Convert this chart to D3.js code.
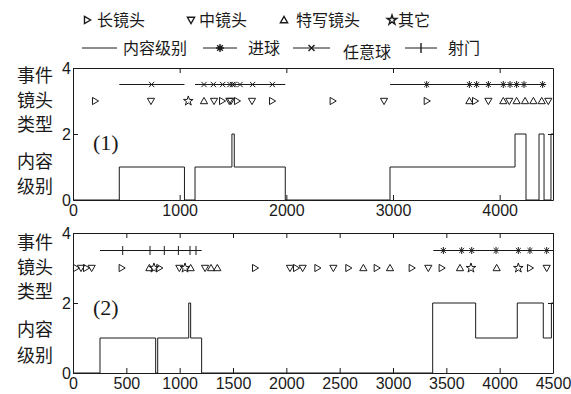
<!DOCTYPE html>
<html>
<head>
<meta charset="utf-8">
<script src="https://cdn.jsdelivr.net/npm/d3@7/dist/d3.min.js"></script>
<style>
  body { margin: 0; background: #fff; }
  svg { display: block; font-family: "Liberation Sans Narrow", "DejaVu Sans Condensed", "Liberation Sans", sans-serif; }
  .cjk { font-family: "Noto Sans CJK SC", sans-serif; }
</style>
</head>
<body>
<svg width="571" height="394"></svg>
<script>
// ---- panel (1) ----
const p1LevelX = [0, 434, 1045, 1144, 1490, 1512, 1990, 2972, 4144, 4247, 4369, 4416, 4481, 4500];
const p1LevelY = [0, 1, 0, 1, 2, 1, 0, 1, 2, 0, 2, 0, 2, 2];
const p1Long = [206, 1397, 1537, 1866, 2434, 3316, 3769];
const p1Medium = [731, 1322, 1466, 1480, 1678, 2916, 3894, 4090, 4456];
const p1Close = [1228, 3716, 4034, 4159, 4238, 4316, 4394];
const p1Other = [1081];
const p1FreeKickSpans = [[434, 1045], [1144, 1990]];
const p1FreeKickMarks = [737, 1228, 1316, 1403, 1472, 1495, 1510, 1566, 1684, 1869];
const p1GoalSpans = [[2972, 4428]];
const p1GoalMarks = [3316, 3716, 3784, 3894, 4034, 4097, 4159, 4228, 4403];
const p1XTicks = [0, 1000, 2000, 3000, 4000];

// ---- panel (2) ----
const p2LevelX = [0, 253, 775, 794, 1085, 1103, 1206, 3372, 3775, 4165, 4409, 4485, 4500];
const p2LevelY = [0, 1, 0, 1, 2, 1, 0, 2, 1, 2, 1, 2, 2];
const p2Long = [28, 122, 456, 809, 1706, 2091, 2291, 2581, 2847, 3175, 3456, 4284];
const p2Medium = [75, 175, 997, 1238, 2034, 2153, 2441, 3331, 4441];
const p2Close = [716, 1103, 1294, 1353, 2722, 2972, 3628, 3972];
const p2Other = [759, 1050, 3731, 4175];
const p2ShotSpans = [[253, 1206]];
const p2ShotMarks = [466, 722, 856, 988, 1097, 1153];
const p2GoalSpans = [[3378, 4500]];
const p2GoalMarks = [3472, 3644, 3738, 3966, 4175, 4284, 4441];
const p2XTicks = [0, 500, 1000, 1500, 2000, 2500, 3000, 3500, 4000, 4500];

const yTicks = [0, 2, 4];
const xDomain = [0, 4500];
const yDomain = [0, 4];
const eventRow = 3.5;
const shotRow = 3;

const ink = '#1a1a1a';
const svg = d3.select('svg');

// marker shapes, h = half size in px
function markerPath(kind, h) {
  switch (kind) {
    case 'long':  return `M${-h * 0.7},${-h}L${h},0L${-h * 0.7},${h}Z`;
    case 'mid':   return `M${-h},${-h * 0.75}L${h},${-h * 0.75}L0,${h}Z`;
    case 'close': return `M${-h},${h * 0.75}L${h},${h * 0.75}L0,${-h}Z`;
    case 'other': return d3.symbol(d3.symbolStar, h * h * 2.2)();
    case 'goal': {
      const d = h * 0.7;
      return `M0,${-h}V${h}M${-h},0H${h}M${-d},${-d}L${d},${d}M${-d},${d}L${d},${-d}`;
    }
    case 'free': {
      const d = h * 0.75;
      return `M${-d},${-d}L${d},${d}M${-d},${d}L${d},${-d}`;
    }
    case 'shot': return `M0,${-h}V${h}`;
  }
}

function drawMarkers(g, x, y, values, row, kind, h) {
  g.selectAll(null)
    .data(values)
    .enter().append('path')
    .attr('transform', d => `translate(${x(d)},${y(row)})`)
    .attr('d', markerPath(kind, h))
    .attr('fill', 'none')
    .attr('stroke', ink)
    .attr('stroke-width', 1);
}

function drawSpans(g, x, y, spans) {
  g.selectAll(null)
    .data(spans)
    .enter().append('line')
    .attr('x1', d => x(d[0]))
    .attr('x2', d => x(d[1]))
    .attr('y1', y(eventRow))
    .attr('y2', y(eventRow))
    .attr('stroke', ink)
    .attr('stroke-width', 1);
}

function drawPanel(p) {
  const left = 73, right = 553;
  const x = d3.scaleLinear().domain(xDomain).range([left, right]);
  const y = d3.scaleLinear().domain(yDomain).range([p.bottom, p.top]);
  const g = svg.append('g');
  const fmt = d3.format('d');

  // axes, ticks inward on all four sides
  const bottom = g.append('g')
    .attr('transform', `translate(0,${p.bottom})`)
    .call(d3.axisBottom(x).tickValues(p.xTicks).tickFormat(fmt).tickSizeInner(-5).tickSizeOuter(0).tickPadding(5));
  const top = g.append('g')
    .attr('transform', `translate(0,${p.top})`)
    .call(d3.axisTop(x).tickValues(p.xTicks).tickSizeInner(-5).tickSizeOuter(0).tickFormat(''));
  const leftAxis = g.append('g')
    .attr('transform', `translate(${left},0)`)
    .call(d3.axisLeft(y).tickValues(yTicks).tickFormat(fmt).tickSizeInner(-5).tickSizeOuter(0).tickPadding(2));
  const rightAxis = g.append('g')
    .attr('transform', `translate(${right},0)`)
    .call(d3.axisRight(y).tickValues(yTicks).tickSizeInner(-5).tickSizeOuter(0).tickFormat(''));

  [bottom, top, leftAxis, rightAxis].forEach(a => {
    a.selectAll('path, line').attr('stroke', ink);
    a.selectAll('text').attr('fill', ink).style('font-size', '16px');
  });

  // content level step line
  const levels = p.levelX.map((v, i) => [v, p.levelY[i]]);
  g.append('path')
    .datum(levels)
    .attr('fill', 'none')
    .attr('stroke', ink)
    .attr('stroke-width', 1)
    .attr('d', d3.line().curve(d3.curveStepAfter).x(d => x(d[0])).y(d => y(d[1])));

  // event lines with their markers
  p.events.forEach(ev => {
    drawSpans(g, x, y, ev.spans);
    drawMarkers(g, x, y, ev.marks, eventRow, ev.kind, ev.kind === 'shot' ? 4.5 : 3.5);
  });

  // shot type markers
  drawMarkers(g, x, y, p.long, shotRow, 'long', 3.6);
  drawMarkers(g, x, y, p.medium, shotRow, 'mid', 3.6);
  drawMarkers(g, x, y, p.close, shotRow, 'close', 3.6);
  drawMarkers(g, x, y, p.other, shotRow, 'other', 3.6);

  // panel tag
  g.append('text')
    .attr('x', 93)
    .attr('y', p.top + 82)
    .style('font-family', '"Liberation Serif", serif')
    .style('font-size', '22px')
    .attr('fill', ink)
    .text(p.tag);

  // left side labels
  const labels = ['事件', '镜头', '类型', '内容', '级别'];
  g.selectAll(null)
    .data(labels)
    .enter().append('text')
    .attr('class', 'cjk')
    .attr('x', 17)
    .attr('y', (d, i) => p.top + p.labelOffsets[i])
    .attr('dy', '0.35em')
    .style('font-size', '18px')
    .attr('fill', ink)
    .text(d => d);
}

drawPanel({
  top: 68, bottom: 200, tag: '(1)', xTicks: p1XTicks,
  levelX: p1LevelX, levelY: p1LevelY,
  long: p1Long, medium: p1Medium, close: p1Close, other: p1Other,
  events: [
    { spans: p1FreeKickSpans, marks: p1FreeKickMarks, kind: 'free' },
    { spans: p1GoalSpans, marks: p1GoalMarks, kind: 'goal' }
  ],
  labelOffsets: [8, 33, 57, 94, 119]
});

drawPanel({
  top: 233, bottom: 373, tag: '(2)', xTicks: p2XTicks,
  levelX: p2LevelX, levelY: p2LevelY,
  long: p2Long, medium: p2Medium, close: p2Close, other: p2Other,
  events: [
    { spans: p2ShotSpans, marks: p2ShotMarks, kind: 'shot' },
    { spans: p2GoalSpans, marks: p2GoalMarks, kind: 'goal' }
  ],
  labelOffsets: [10, 35, 59, 97, 123]
});

// ---- legend ----
const legendShapes = [
  { kind: 'long', label: '长镜头', mx: 87, tx: 97 },
  { kind: 'mid', label: '中镜头', mx: 191, tx: 199 },
  { kind: 'close', label: '特写镜头', mx: 284, tx: 296 },
  { kind: 'other', label: '其它', mx: 392, tx: 398 }
];
const legendLines = [
  { kind: null, label: '内容级别', x1: 82, x2: 117, tx: 123, ty: 48 },
  { kind: 'goal', label: '进球', x1: 203, x2: 237, tx: 248, ty: 48 },
  { kind: 'free', label: '任意球', x1: 293, x2: 330, tx: 343, ty: 52 },
  { kind: 'shot', label: '射门', x1: 405, x2: 437, tx: 448, ty: 48 }
];

const leg = svg.append('g');
legendShapes.forEach(d => {
  leg.append('path')
    .attr('transform', `translate(${d.mx},20)`)
    .attr('d', markerPath(d.kind, 3.6))
    .attr('fill', 'none').attr('stroke', ink).attr('stroke-width', 1.4);
  leg.append('text').attr('class', 'cjk')
    .attr('x', d.tx).attr('y', 20).attr('dy', '0.35em')
    .style('font-size', '16px').attr('fill', ink).text(d.label);
});
legendLines.forEach(d => {
  leg.append('line')
    .attr('x1', d.x1).attr('x2', d.x2).attr('y1', 48).attr('y2', 48)
    .attr('stroke', ink).attr('stroke-width', 1);
  if (d.kind) {
    leg.append('path')
      .attr('transform', `translate(${(d.x1 + d.x2) / 2},48)`)
      .attr('d', markerPath(d.kind, d.kind === 'shot' ? 5 : 4))
      .attr('fill', 'none').attr('stroke', ink).attr('stroke-width', 1.4);
  }
  leg.append('text').attr('class', 'cjk')
    .attr('x', d.tx).attr('y', d.ty).attr('dy', '0.35em')
    .style('font-size', '16px').attr('fill', ink).text(d.label);
});
</script>
</body>
</html>
